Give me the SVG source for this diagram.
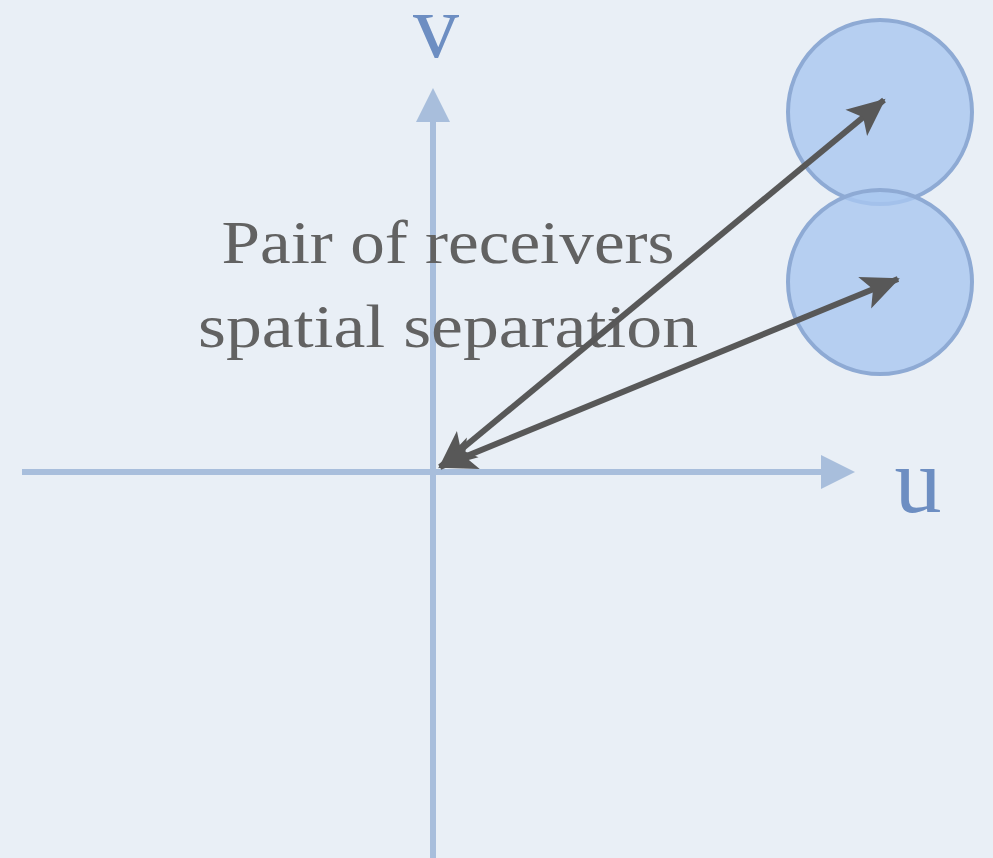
<svg xmlns="http://www.w3.org/2000/svg" width="993" height="858" viewBox="0 0 993 858">
<style>
.axis{stroke:#a8bedc;stroke-width:6;fill:none}
.axlabel{font-family:"Liberation Serif",serif;fill:#6d8ec2;text-anchor:middle}
.vec{stroke:#585858;stroke-width:6;fill:none;marker-start:url(#ah);marker-end:url(#ah)}
.rx{fill:#a9c7f0;fill-opacity:0.8;stroke:#8eaad4;stroke-width:4}
.lbl{font-family:"Liberation Serif",serif;font-size:62px;fill:#626262;text-anchor:middle}
</style>
<defs>
<marker id="ah" markerUnits="userSpaceOnUse" viewBox="-40 -20 44 40" refX="0" refY="0" markerWidth="44" markerHeight="40" orient="auto-start-reverse" overflow="visible">
<path d="M2,0 L-36,-17 L-27,0 L-36,17 Z" fill="#585858"/>
</marker>
</defs>
<rect width="993" height="858" fill="#e9eff6"/>
<g id="axes">
<line class="axis" x1="22" y1="472" x2="822" y2="472"/>
<path d="M855,472 L821,455 L821,489 Z" fill="#a8bedc"/>
<line class="axis" x1="433" y1="858" x2="433" y2="120"/>
<path d="M433,88 L416,122 L450,122 Z" fill="#a8bedc"/>
</g>
<g id="label-v"><text class="axlabel" x="436" y="57" font-size="92">v</text></g>
<g id="label-u"><text class="axlabel" x="918" y="512" font-size="94">u</text></g>
<g id="receiver-top"><circle class="rx" cx="880" cy="112" r="92"/></g>
<g id="receiver-bottom"><circle class="rx" cx="880" cy="282" r="92"/></g>
<g id="caption">
<text class="lbl" x="448" y="263" textLength="453" lengthAdjust="spacingAndGlyphs">Pair of receivers</text>
<text class="lbl" x="448" y="347" textLength="500" lengthAdjust="spacingAndGlyphs">spatial separation</text>
</g>
<g id="connectors">
<line class="vec" x1="440" y1="467" x2="884" y2="100"/>
<line class="vec" x1="440" y1="467" x2="898" y2="279"/>
</g>
</svg>
